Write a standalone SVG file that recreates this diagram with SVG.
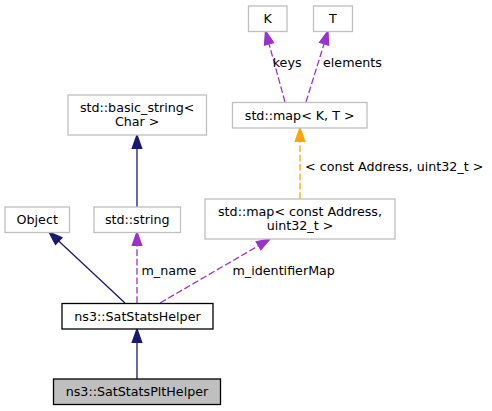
<svg xmlns="http://www.w3.org/2000/svg" width="492" height="411" viewBox="0 0 492 411">
<style>
.box{fill:#ffffff;stroke:#bfbfbf;stroke-width:1.3}
.main{fill:#ffffff;stroke:#000000;stroke-width:1.3}
.cur{fill:#bfbfbf;stroke:#000000;stroke-width:1.3}
text{font-family:"DejaVu Sans",sans-serif;font-size:12.7px;fill:#000000}
.c{text-anchor:middle}
.inh{stroke:#191970;stroke-width:1.3;fill:none}
.inhh{fill:#191970;stroke:#191970;stroke-width:1.3}
.use{stroke:#9a32cd;stroke-width:1.3;fill:none;stroke-dasharray:6.7,2.7}
.useh{fill:#9a32cd;stroke:#9a32cd;stroke-width:1.3}
.tpl{stroke:#ffa500;stroke-width:1.3;fill:none;stroke-dasharray:6.7,2.7}
.tplh{fill:#ffa500;stroke:#ffa500;stroke-width:1.3}
</style>
<rect width="492" height="411" fill="#ffffff"/>
<g id="connectors">
  <line class="inh" x1="137" y1="379" x2="137" y2="342"/>
  <polygon class="inhh" points="132.3,342.3 137,329 141.7,342.3"/>
  <line class="inh" x1="125" y1="303" x2="58.7" y2="241.1"/>
  <polygon class="inhh" points="61.9,237.7 49,232 55.5,244.5"/>
  <line class="use" x1="137" y1="303" x2="137" y2="245.3"/>
  <polygon class="useh" points="132.3,245.3 137,232 141.7,245.3"/>
  <text x="141.5" y="274.5">m_name</text>
  <line class="use" x1="160" y1="303" x2="258.5" y2="245.7"/>
  <polygon class="useh" points="260.9,249.7 270,239 256.2,241.7"/>
  <text x="232.5" y="274.5">m_identifierMap</text>
  <line class="inh" x1="137" y1="207" x2="137" y2="148.3"/>
  <polygon class="inhh" points="132.3,148.3 137,135 141.7,148.3"/>
  <line class="tpl" x1="300" y1="199" x2="300" y2="141.3"/>
  <polygon class="tplh" points="295.3,141.3 300,128 304.7,141.3"/>
  <text x="305" y="170.5">&lt; const Address, uint32_t &gt;</text>
  <line class="use" x1="285" y1="102" x2="269" y2="43.8"/>
  <polygon class="useh" points="273.5,42.6 265.5,31 264.5,45.1"/>
  <text x="272.7" y="66.5">keys</text>
  <line class="use" x1="306" y1="102" x2="324.1" y2="43.7"/>
  <polygon class="useh" points="328.5,45.1 328,31 319.6,42.3"/>
  <text x="323" y="66.5">elements</text>
</g>
<g id="node-plt">
  <rect class="cur" x="53.5" y="379" width="167" height="25.5"/>
  <text class="c" x="137" y="396">ns3::SatStatsPltHelper</text>
</g>
<g id="node-helper">
  <rect class="main" x="62" y="303.5" width="151" height="25.5"/>
  <text class="c" x="137.5" y="320.5">ns3::SatStatsHelper</text>
</g>
<g id="node-object">
  <rect class="box" x="5" y="207" width="64.5" height="25.5"/>
  <text class="c" x="37.2" y="224">Object</text>
</g>
<g id="node-string">
  <rect class="box" x="94" y="207" width="86.5" height="25.5"/>
  <text class="c" x="137.2" y="224">std::string</text>
</g>
<g id="node-basic-string">
  <rect class="box" x="68" y="95" width="138.5" height="40"/>
  <text class="c" x="137.2" y="111.5">std::basic_string&lt;</text>
  <text class="c" x="137.2" y="126">Char &gt;</text>
</g>
<g id="node-map-addr">
  <rect class="box" x="205" y="199" width="190" height="40"/>
  <text class="c" x="300" y="215.5">std::map&lt; const Address,</text>
  <text class="c" x="300" y="230">uint32_t &gt;</text>
</g>
<g id="node-map-kt">
  <rect class="box" x="232.5" y="102.5" width="134.5" height="25.5"/>
  <text class="c" x="299.7" y="119.5">std::map&lt; K, T &gt;</text>
</g>
<g id="node-k">
  <rect class="box" x="248.5" y="6" width="38.5" height="25.5"/>
  <text class="c" x="267.7" y="23">K</text>
</g>
<g id="node-t">
  <rect class="box" x="313.5" y="6" width="39" height="25.5"/>
  <text class="c" x="333" y="23">T</text>
</g>
</svg>
